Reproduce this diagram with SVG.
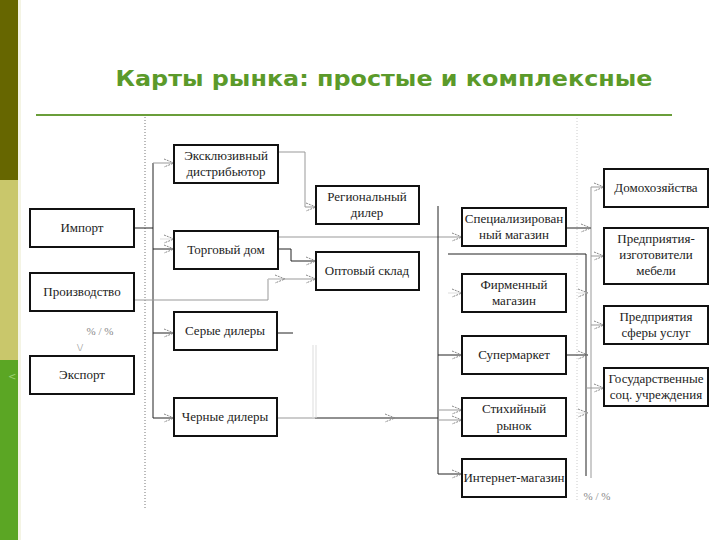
<svg xmlns="http://www.w3.org/2000/svg" width="720" height="540" viewBox="0 0 720 540">
<style>
.box{fill:#fff;stroke:#111;stroke-width:2}
.t{font-family:"Liberation Serif","Times New Roman",serif;font-size:13px;fill:#222;text-anchor:middle}
.c{fill:none;stroke:#222;stroke-width:1}
.g{fill:none;stroke:#999;stroke-width:1}
.l{fill:none;stroke:#ddd;stroke-width:1}
.note{font-family:"Liberation Serif",serif;font-size:11px;fill:#888}
</style>
<defs>
<marker id="a" markerUnits="userSpaceOnUse" viewBox="0 0 10 10" refX="10" refY="5" markerWidth="10" markerHeight="10" orient="auto">
<path d="M0,1 L10,5 L0,9" fill="none" stroke="#888" stroke-width="1" stroke-dasharray="2,1"/>
</marker>
</defs>
<rect width="720" height="540" fill="#fff"/>
<rect x="0" y="0" width="18" height="180" fill="#666600"/>
<rect x="0" y="180" width="18" height="180" fill="#c9c76b"/>
<rect x="0" y="360" width="18" height="180" fill="#5ba624"/>
<rect x="18" y="0" width="3" height="540" fill="#f4f4e4"/>
<text x="8" y="380" font-family="DejaVu Sans,sans-serif" font-size="10" fill="#9ad070">&lt;</text>
<text x="384" y="86" font-family="DejaVu Sans,Verdana,sans-serif" font-weight="bold" font-size="21" fill="#5b9a2a" text-anchor="middle" textLength="537" lengthAdjust="spacingAndGlyphs">Карты рынка: простые и комплексные</text>
<line x1="36" y1="115" x2="672" y2="115" stroke="#6a9e3a" stroke-width="2"/>
<line x1="145" y1="117" x2="145" y2="510" stroke="#777" stroke-width="1" stroke-dasharray="1,2"/>
<line x1="577" y1="118" x2="577" y2="500" stroke="#ccc" stroke-width="1" stroke-dasharray="1,2"/>
<text class="note" x="100" y="335" text-anchor="middle">% / %</text>
<text class="note" x="80" y="351" text-anchor="middle">\/</text>
<text class="note" x="597" y="500" text-anchor="middle">% / %</text>

<g id="connectors">
<path class="c" d="M134,228 H153"/>
<path class="c" d="M153,163 V418"/>
<path class="g" d="M153,163 H174" marker-end="url(#a)"/>
<path class="l" d="M160,239 H174" marker-end="url(#a)"/>
<path class="c" d="M153,249 H174" marker-end="url(#a)"/>
<path class="c" d="M153,333 H174" marker-end="url(#a)"/>
<path class="c" d="M153,418 H174" marker-end="url(#a)"/>
<path class="g" d="M134,300 H268 V279 H316" marker-end="url(#a)"/>
<path class="l" d="M268,279 H285" marker-end="url(#a)"/>
<path class="c" d="M278,249 H291 V261 H316" marker-end="url(#a)"/>
<path class="g" d="M278,152 H305 V207 H316" marker-end="url(#a)"/>
<path class="g" d="M278,237 H462" marker-end="url(#a)"/>
<path class="c" d="M438,206 V474"/>
<path class="l" d="M448,293 H462" marker-end="url(#a)"/>
<path class="c" d="M438,355 H462" marker-end="url(#a)"/>
<path class="g" d="M438,410 H462" marker-end="url(#a)"/>
<path class="g" d="M438,420 H462" marker-end="url(#a)"/>
<path class="c" d="M438,474 H462" marker-end="url(#a)"/>
<path class="c" d="M277,333 H293"/>
<path class="g" d="M277,418 H315"/>
<path class="c" d="M315,418 H395" marker-end="url(#a)"/>
<path class="c" d="M395,418 H438"/>
<path class="l" d="M313,345 V418 M316,345 V418"/>
<path class="c" d="M448,254 H586 V476"/>
<path class="g" d="M591,187 V478"/>
<path class="g" d="M591,187 H604" marker-end="url(#a)"/>
<path class="g" d="M591,256 H604" marker-end="url(#a)"/>
<path class="g" d="M591,325 H604" marker-end="url(#a)"/>
<path class="g" d="M586,388 H604" marker-end="url(#a)"/>
<path class="c" d="M566,228 H591" marker-end="url(#a)"/>
<path class="l" d="M578,293 H588" marker-end="url(#a)"/>
<path class="c" d="M566,355 H588" marker-end="url(#a)"/>
<path class="l" d="M578,413 H588" marker-end="url(#a)"/>
</g>

<g id="import"><rect class="box" x="30" y="209" width="104" height="38"/><text class="t" x="82" y="232">Импорт</text></g>
<g id="production"><rect class="box" x="30" y="273" width="104" height="38"/><text class="t" x="82" y="296">Производство</text></g>
<g id="export"><rect class="box" x="30" y="356" width="104" height="38"/><text class="t" x="82" y="379">Экспорт</text></g>

<g id="exclusive"><rect class="box" x="174" y="145" width="104" height="38"/><text class="t" x="226" y="160">Эксклюзивный</text><text class="t" x="226" y="176">дистрибьютор</text></g>
<g id="regional"><rect class="box" x="316" y="186" width="103" height="38"/><text class="t" x="367" y="201">Региональный</text><text class="t" x="367" y="217">дилер</text></g>
<g id="tradehouse"><rect class="box" x="174" y="231" width="104" height="38"/><text class="t" x="226" y="254">Торговый дом</text></g>
<g id="warehouse"><rect class="box" x="316" y="252" width="103" height="38"/><text class="t" x="367" y="275">Оптовый склад</text></g>
<g id="grey"><rect class="box" x="174" y="312" width="103" height="38"/><text class="t" x="225" y="335">Серые дилеры</text></g>
<g id="black"><rect class="box" x="174" y="398" width="103" height="38"/><text class="t" x="225" y="421">Черные дилеры</text></g>

<g id="special"><rect class="box" x="462" y="208" width="104" height="38"/><text class="t" x="514" y="223">Специализирован</text><text class="t" x="514" y="239">ный магазин</text></g>
<g id="brand"><rect class="box" x="462" y="274" width="104" height="38"/><text class="t" x="514" y="289">Фирменный</text><text class="t" x="514" y="305">магазин</text></g>
<g id="super"><rect class="box" x="462" y="336" width="104" height="38"/><text class="t" x="514" y="359">Супермаркет</text></g>
<g id="spont"><rect class="box" x="462" y="398" width="104" height="38"/><text class="t" x="514" y="413">Стихийный</text><text class="t" x="514" y="430">рынок</text></g>
<g id="internet"><rect class="box" x="462" y="459" width="104" height="38"/><text class="t" x="514" y="482">Интернет-магазин</text></g>

<g id="households"><rect class="box" x="604" y="169" width="104" height="38"/><text class="t" x="656" y="192">Домохозяйства</text></g>
<g id="furniture"><rect class="box" x="604" y="228" width="104" height="56"/><text class="t" x="656" y="243">Предприятия-</text><text class="t" x="656" y="259">изготовители</text><text class="t" x="656" y="275">мебели</text></g>
<g id="services"><rect class="box" x="604" y="306" width="104" height="38"/><text class="t" x="656" y="321">Предприятия</text><text class="t" x="656" y="337">сферы услуг</text></g>
<g id="state"><rect class="box" x="604" y="368" width="104" height="38"/><text class="t" x="656" y="383">Государственные</text><text class="t" x="656" y="399">соц. учреждения</text></g>
</svg>
